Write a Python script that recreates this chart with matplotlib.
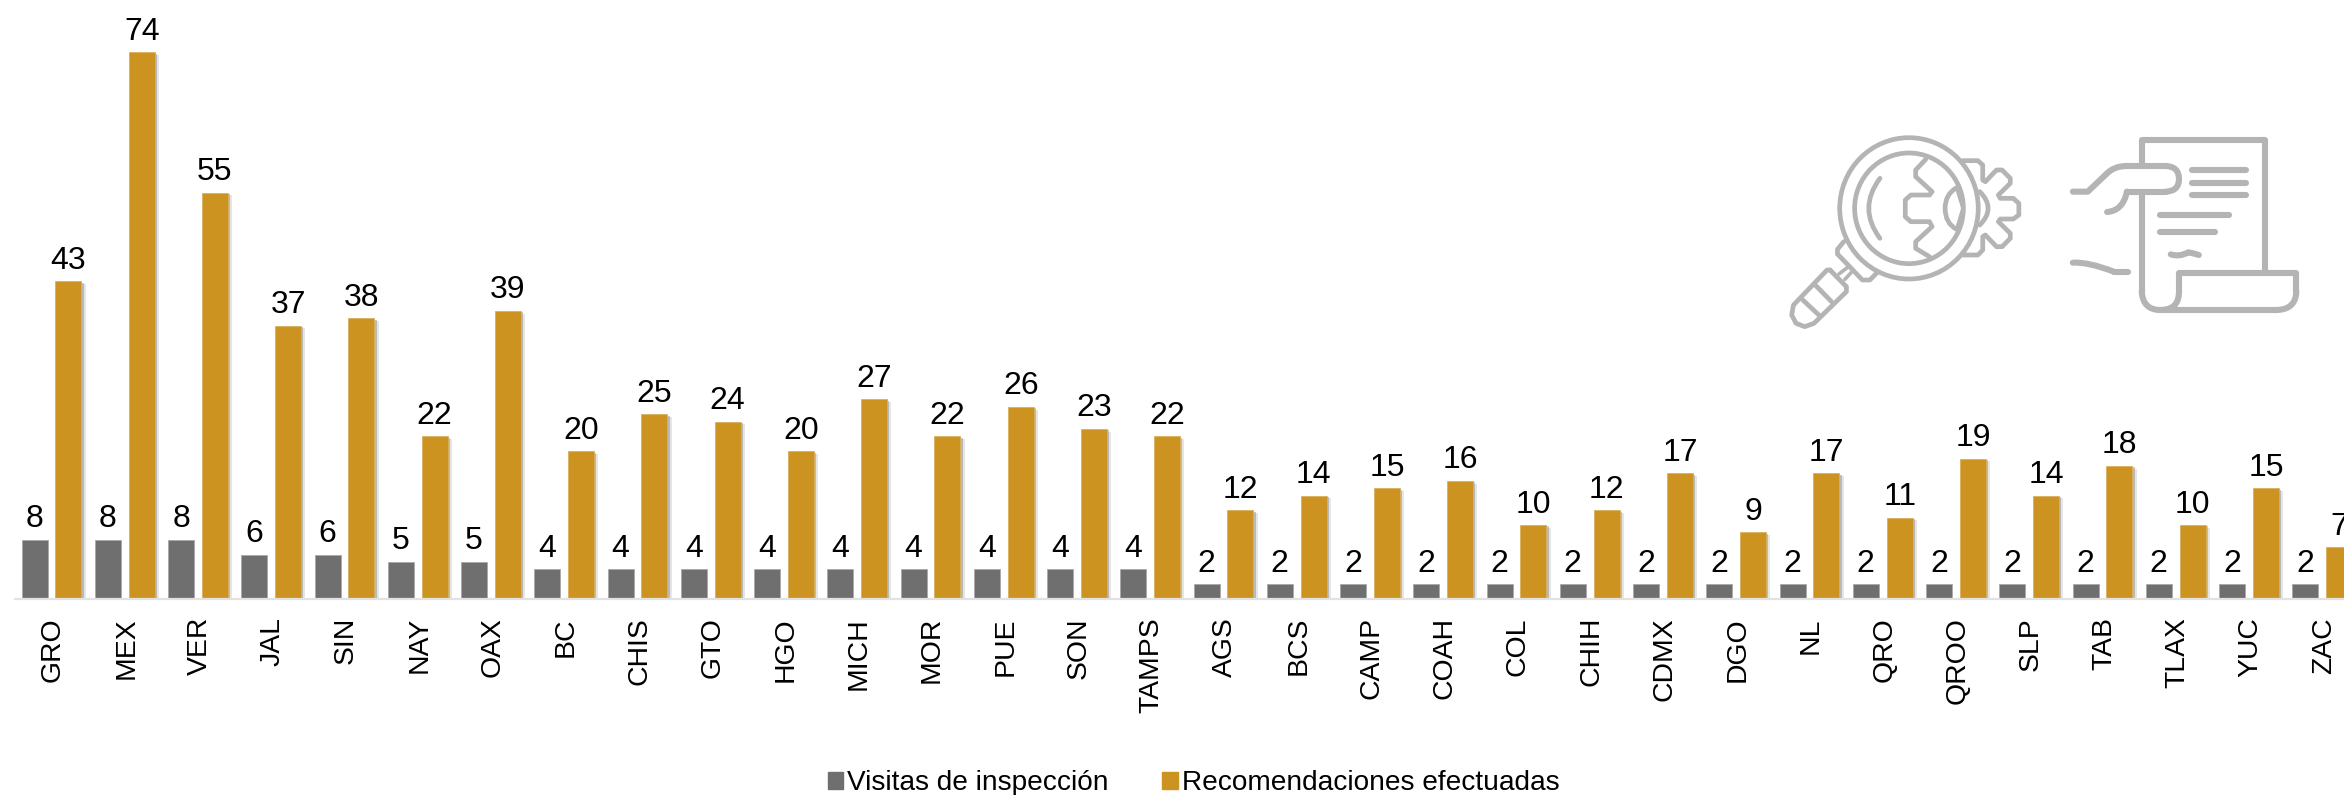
# Visitas de inspeccion y recomendaciones por estado
import matplotlib
matplotlib.use('Agg')
import matplotlib.pyplot as plt
import matplotlib.patheffects as pe
from matplotlib.lines import Line2D
from matplotlib.patches import Ellipse, PathPatch, Patch
from matplotlib.path import Path
from matplotlib.transforms import ScaledTranslation
import numpy as np

estados = ['GRO', 'MEX', 'VER', 'JAL', 'SIN', 'NAY', 'OAX', 'BC', 'CHIS', 'GTO', 'HGO',
           'MICH', 'MOR', 'PUE', 'SON', 'TAMPS', 'AGS', 'BCS', 'CAMP', 'COAH', 'COL',
           'CHIH', 'CDMX', 'DGO', 'NL', 'QRO', 'QROO', 'SLP', 'TAB', 'TLAX', 'YUC', 'ZAC']
visitas = [8, 8, 8, 6, 6, 5, 5, 4, 4, 4, 4, 4, 4, 4, 4, 4,
           2, 2, 2, 2, 2, 2, 2, 2, 2, 2, 2, 2, 2, 2, 2, 2]
recomendaciones = [43, 74, 55, 37, 38, 22, 39, 20, 25, 24, 20, 27, 22, 26, 23, 22,
                   12, 14, 15, 16, 10, 12, 17, 9, 17, 11, 19, 14, 18, 10, 15, 7]

GRIS = '#6f6f6f'
ORO = '#cc9321'
ICONO = '#b4b4b4'

W, H = 2344, 795
plt.rcParams['font.family'] = ['Liberation Sans', 'DejaVu Sans']

fig = plt.figure(figsize=(W/100, H/100), dpi=100)
base = 599
ax = fig.add_axes([15/W, 1 - base/H, (W - 15)/W, base/H])

x = np.arange(len(estados))
ancho = 0.355
# two soft layers stand in for the blurred shadow
sombra = [pe.SimplePatchShadow(offset=(3, -2), shadow_rgbFace='#999999', alpha=0.25),
          pe.SimplePatchShadow(offset=(1.5, -1), shadow_rgbFace='#777777', alpha=0.4),
          pe.Normal()]
b1 = ax.bar(x - 0.232, visitas, ancho, color=GRIS, edgecolor='#a8a8a8', linewidth=0.6,
            label='Visitas de inspección')
b2 = ax.bar(x + 0.232, recomendaciones, ancho, color=ORO, edgecolor='#d8b060', linewidth=0.6,
            label='Recomendaciones efectuadas', path_effects=sombra)
ax.bar_label(b1, fontsize=23, padding=4, color='black')
ax.bar_label(b2, fontsize=23, padding=4, color='black')

ax.set_xlim((15 - 51.5)/73.25, (W - 51.5)/73.25)
ax.set_ylim(0, base/7.39)
ax.set_xticks(x)
ax.set_xticklabels(estados, rotation=90, fontsize=20.4, ha='center', va='top')
ax.tick_params(axis='x', length=0, pad=13)
ax.set_yticks([])
corrimiento = ScaledTranslation(1.5/100, 0, fig.dpi_scale_trans)
for t in ax.get_xticklabels():
    t.set_transform(t.get_transform() + corrimiento)
for s in ['top', 'left', 'right']:
    ax.spines[s].set_visible(False)
ax.spines['bottom'].set_color('#e2e2e2')
ax.spines['bottom'].set_linewidth(1.6)

# the legend is centred under the plot, with small square keys
handles = [Patch(color=GRIS, label='Visitas de inspección'),
           Patch(color=ORO, label='Recomendaciones efectuadas')]
fig.legend(handles=handles, loc='center', bbox_to_anchor=(1193.5/W, 1 - 783.5/H), ncol=2,
           frameon=False, fontsize=20.2, handlelength=0.54, handleheight=0.54,
           handletextpad=0.15, columnspacing=1.92, borderpad=0, borderaxespad=0)

# Icons, drawn in the pixel space of a 1568x660 box over the top right
ic = fig.add_axes([1760/W, 1 - 340/H, 584/W, 220/H])
ic.set_xlim(0, 1568)
ic.set_ylim(660, 0)
ic.axis('off')


def linea(pts, lw=3.4):
    xs, ys = zip(*pts)
    ic.add_line(Line2D(xs, ys, color=ICONO, lw=lw, solid_capstyle='round', solid_joinstyle='round'))


def curva(pts, lw=3.4):
    # pts: start, then control/end pairs
    codes = [Path.MOVETO] + [Path.CURVE3]*(len(pts) - 1)
    ic.add_patch(PathPatch(Path(pts, codes), fc='none', ec=ICONO, lw=lw, capstyle='round', joinstyle='round'))


# magnifier
ic.add_patch(Ellipse((400, 265), 372, 424, fc='none', ec=ICONO, lw=3.4))
ic.add_patch(Ellipse((400, 265), 292, 332, fc='none', ec=ICONO, lw=3.4))
curva([(322, 175), (262, 265), (322, 355)])
linea([(445, 118), (418, 150), (418, 170), (462, 215), (455, 225), (405, 225), (390, 240),
       (390, 290), (405, 305), (455, 305), (462, 320), (418, 365), (418, 385), (455, 410)])
curva([(528, 203), (497, 222), (497, 265), (497, 310), (528, 328)])
linea([(528, 203), (545, 265), (528, 328)], lw=2.6)
linea([(545, 122), (585, 122), (598, 135), (598, 180), (605, 185), (635, 150), (650, 150),
       (672, 175), (672, 190), (640, 225), (645, 235), (680, 235), (695, 250), (695, 285),
       (680, 297), (645, 297), (640, 305), (672, 340), (672, 355), (650, 380), (635, 380),
       (605, 345), (598, 350), (598, 390), (585, 405), (545, 405)])
curva([(590, 215), (635, 265), (590, 315)])
# handle
linea([(225, 365), (208, 388), (208, 402), (275, 480), (295, 480), (315, 457)])
linea([(212, 462), (240, 438)], lw=2.6)
linea([(228, 478), (247, 455)], lw=2.6)
linea([(188, 450), (232, 500), (232, 515), (145, 610), (120, 620), (97, 610), (85, 585),
       (90, 555), (180, 450), (188, 450)])
linea([(115, 540), (158, 585)])
linea([(150, 497), (192, 545)])

# document and hand
lw_doc = 4.4
linea([(1025, 128), (1025, 60), (1355, 60), (1355, 455)], lw_doc)
linea([(1025, 225), (1025, 515)], lw_doc)
curva([(1025, 515), (1028, 570), (1075, 570), (1125, 570), (1125, 515)], lw_doc)
linea([(1125, 515), (1125, 460), (1440, 460), (1440, 515)], lw_doc)
curva([(1440, 515), (1438, 570), (1385, 570)], lw_doc)
linea([(1385, 570), (1075, 570)], lw_doc)
linea([(840, 215), (880, 215), (930, 162)], lw_doc)
curva([(930, 162), (950, 138), (985, 138)], lw_doc)
linea([(985, 138), (1090, 138)], lw_doc)
curva([(1090, 138), (1125, 140), (1125, 177), (1125, 213), (1090, 215)], lw_doc)
linea([(1090, 215), (985, 215)], lw_doc)
curva([(985, 215), (975, 272), (932, 276)], lw_doc)
linea([(1160, 150), (1305, 150)], lw_doc)
linea([(1160, 188), (1305, 188)], lw_doc)
linea([(1160, 225), (1305, 225)], lw_doc)
linea([(1075, 285), (1258, 285)], lw_doc)
linea([(1075, 335), (1222, 335)], lw_doc)
curva([(1103, 403), (1125, 412), (1150, 397), (1165, 400), (1178, 405)], lw_doc)
curva([(840, 428), (880, 425), (950, 455)], lw_doc)
linea([(950, 455), (988, 455)], lw_doc)

fig.savefig('out.png', dpi=100)
